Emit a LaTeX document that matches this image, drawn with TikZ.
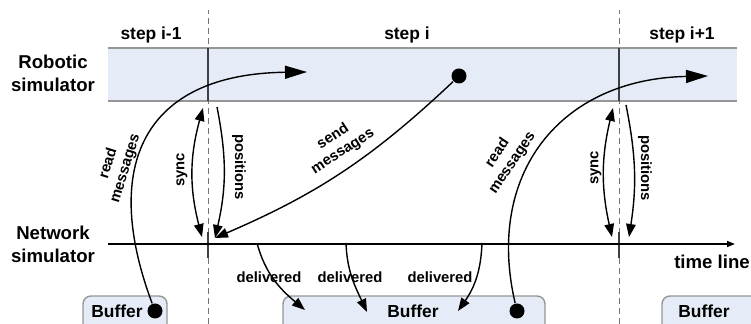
\documentclass[tikz,border=0pt]{standalone}
\usepackage{fontspec}
\setmainfont{Liberation Sans}
\usetikzlibrary{arrows.meta,positioning}
\definecolor{bandblue}{RGB}{230,236,247}
\definecolor{edgegray}{RGB}{150,150,150}

\tikzset{
	lbl/.style={font=\bfseries\fontsize{9.3}{11.5}\selectfont, align=center},
	steplbl/.style={font=\bfseries\fontsize{8.7}{10}\selectfont},
	arrlbl/.style={font=\bfseries\fontsize{7.4}{8.9}\selectfont, align=center, inner sep=1pt},
	dot/.style={circle, fill=black, inner sep=0pt, minimum size=7.5pt},
	bigarr/.style={-{Triangle[length=11pt,width=6.5pt]}},
	>={Triangle[length=6.5pt,width=4.8pt]}
}

\begin{document}
\begin{tikzpicture}[x=0.5pt,y=0.5pt,line width=0.7pt]
			\useasboundingbox (0,0) rectangle (751,324);
			\def\xa{208}
			\def\xb{619}
			% simulator band
			\fill[bandblue] (108,223) rectangle (737,276);
			\draw[edgegray] (108,223) -- (737,223) (108,276) -- (737,276);
			% step borders
			\foreach \x in {\xa,\xb} {
				\draw[black!55, line width=0.5pt, densely dashed] (\x,0) -- (\x,314);
				\draw[black!75, line width=0.8pt] (\x,223) -- (\x,276);
				\draw[black!75, line width=0.8pt] (\x,66) -- (\x,92);
			}
			% buffers
			\foreach \xl/\xr in {83/167, 283/545, 662/780} {
				\draw[edgegray, fill=bandblue, rounded corners=4pt] (\xl,-10) rectangle (\xr,28);
			}
			% time line
			\coordinate (tl0) at (108,80);
			\coordinate (tl1) at (735,80);
			\draw[line width=0.8pt, -{Triangle[length=4pt,width=3pt]}] (tl0) -- (tl1);
			\node[lbl] (timeline) at (712,62) {time line};
			% side labels
			\node[lbl] (robsim) at (53,251) {Robotic\\simulator};
			\node[lbl] (netsim) at (53,80) {Network\\simulator};
			\node[steplbl] (stepA) at (151,289) {step i-1};
			\node[steplbl] (stepB) at (407,289) {step i};
			\node[steplbl] (stepC) at (682,289) {step i+1};
			\node[steplbl] (bufL) at (117,13) {Buffer};
			\node[steplbl] (bufM) at (413,13) {Buffer};
			\node[steplbl] (bufR) at (704,13) {Buffer};
			% message dots
			\node[dot] (dotL) at (155,13) {};
			\node[dot] (dotM) at (517,13) {};
			\node[dot] (dotT) at (459,248) {};
			% read messages
			\coordinate (readL) at (307,252);
			\coordinate (readR) at (708,248);
			\draw[bigarr] (dotL) .. controls (100,160) and (145,250) .. (readL);
			\draw[bigarr] (dotM) .. controls (485,150) and (560,245) .. (readR);
			\node[arrlbl, rotate=73] (readLlbl) at (117,158) {read\\messages};
			\node[arrlbl, rotate=56] (readRlbl) at (505,166) {read\\messages};
			% sync and positions
			\coordinate (syncLb) at (202,87);
			\coordinate (syncLt) at (203,216);
			\coordinate (posLt) at (217,217);
			\coordinate (posLb) at (215,86);
			\coordinate (syncRb) at (612,87);
			\coordinate (syncRt) at (613,216);
			\coordinate (posRt) at (626,219);
			\coordinate (posRb) at (629,87);
			\draw[<->] (syncLb) to[bend left=15] (syncLt);
			\draw[->] (posLt) to[bend left=12] (posLb);
			\draw[<->] (syncRb) to[bend left=13] (syncRt);
			\draw[->] (posRt) to[bend left=10] (posRb);
			\node[arrlbl, rotate=90] (syncLlbl) at (182,154) {sync};
			\node[arrlbl, rotate=-90] (posLlbl) at (239,157) {positions};
			\node[arrlbl, rotate=90] (syncRlbl) at (596,156) {sync};
			\node[arrlbl, rotate=-90] (posRlbl) at (645,156) {positions};
			% send messages
			\coordinate (sendtip) at (215,86);
			\draw[->] (dotT) to[bend left=10] (sendtip);
			\node[arrlbl, rotate=33] (sendlbl) at (338,180) {send\\messages};
			% delivered
			\coordinate (dl1) at (257,81);
			\coordinate (dl2) at (346,81);
			\coordinate (dl3) at (482,81);
			\coordinate (db1) at (305,14);
			\coordinate (db2) at (367,12);
			\coordinate (db3) at (458,13);
			\draw[->] (dl1) to[out=-75,in=140] (db1);
			\draw[->] (dl2) to[out=-88,in=115] (db2);
			\draw[->] (dl3) to[out=-92,in=55] (db3);
			\node[arrlbl] (dlv1) at (269,47) {delivered};
			\node[arrlbl] (dlv2) at (350,47) {delivered};
			\node[arrlbl] (dlv3) at (440,47) {delivered};
		\end{tikzpicture}
\end{document}
